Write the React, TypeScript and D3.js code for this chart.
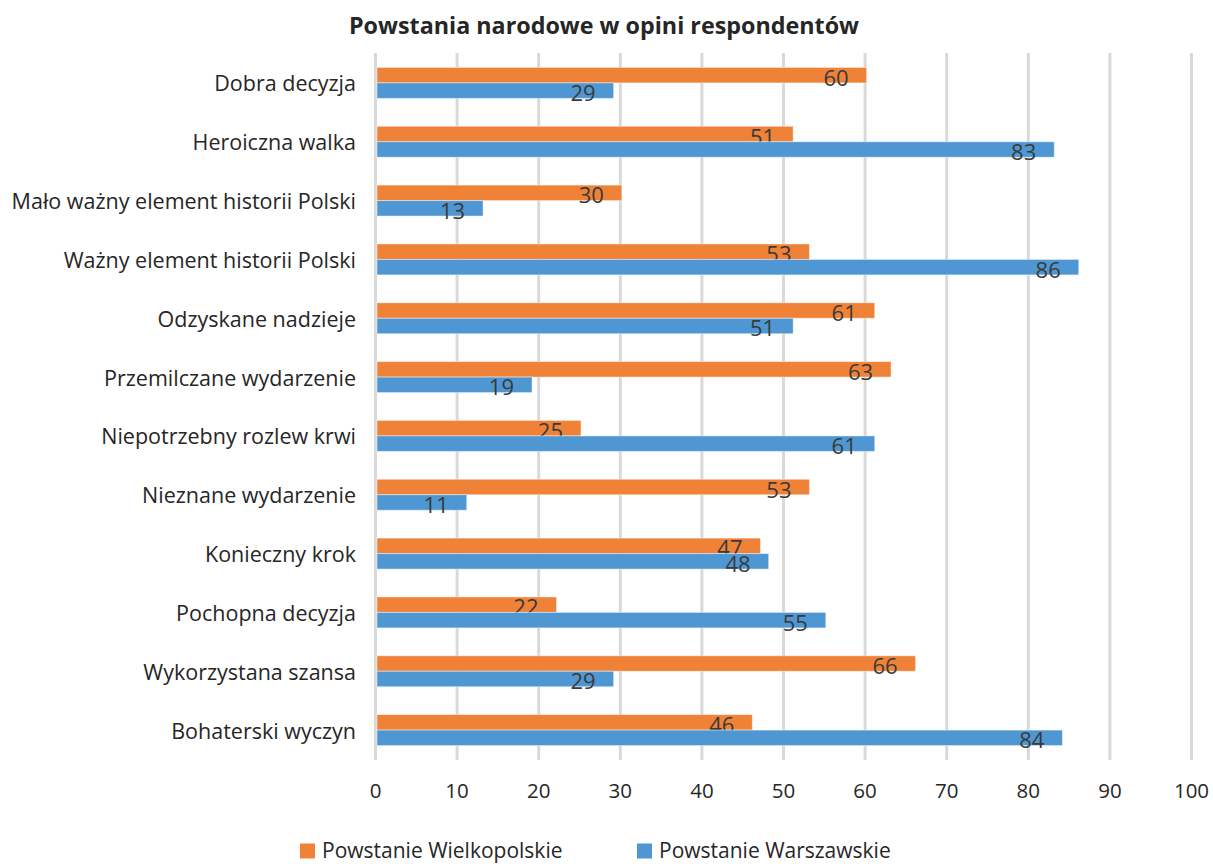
import * as d3 from "d3";
import React, { useEffect, useRef } from "react";

const categories = [
  "Dobra decyzja",
  "Heroiczna walka",
  "Mało ważny element historii Polski",
  "Ważny element historii Polski",
  "Odzyskane nadzieje",
  "Przemilczane wydarzenie",
  "Niepotrzebny rozlew krwi",
  "Nieznane wydarzenie",
  "Konieczny krok",
  "Pochopna decyzja",
  "Wykorzystana szansa",
  "Bohaterski wyczyn",
];
const wielkopolskie = [60, 51, 30, 53, 61, 63, 25, 53, 47, 22, 66, 46];
const warszawskie = [29, 83, 13, 86, 51, 19, 61, 11, 48, 55, 29, 84];
const seriesNames = ["Powstanie Wielkopolskie", "Powstanie Warszawskie"];
const xTicks = [0, 10, 20, 30, 40, 50, 60, 70, 80, 90, 100];

const colors = ["#f08238", "#4f97d2"];
const font = "'Open Sans', 'Noto Sans', sans-serif";
const textColor = "#262626";

export default function App() {
  const ref = useRef<SVGSVGElement>(null);

  useEffect(() => {
    const width = 1213;
    const height = 864;
    const svg = d3.select(ref.current).attr("width", width).attr("height", height);
    svg.selectAll("*").remove();

    const x = d3.scaleLinear().domain([0, 100]).range([377, 1193]);
    const y = d3.scaleBand().domain(categories).range([53.5, 759.5]);
    const sub = d3
      .scaleBand()
      .domain(seriesNames)
      .range([0, y.bandwidth()])
      .paddingOuter(0.9);

    // title
    svg
      .append("text")
      .text("Powstania narodowe w opini respondentów")
      .attr("x", 604)
      .attr("y", 25)
      .attr("dominant-baseline", "central")
      .attr("text-anchor", "middle")
      .attr("font-family", font)
      .attr("font-weight", 700)
      .attr("font-size", "23.3px")
      .attr("fill", textColor);

    // grid
    svg
      .append("g")
      .selectAll("line")
      .data(xTicks)
      .enter()
      .append("line")
      .attr("x1", (d) => x(d) - 1.5)
      .attr("x2", (d) => x(d) - 1.5)
      .attr("y1", 53)
      .attr("y2", 760)
      .attr("stroke", "#d9d9d9")
      .attr("stroke-width", 3);

    // x tick labels
    svg
      .append("g")
      .selectAll("text")
      .data(xTicks)
      .enter()
      .append("text")
      .text((d) => d)
      .attr("x", (d) => x(d) - 1.5)
      .attr("y", 790)
      .attr("dominant-baseline", "central")
      .attr("text-anchor", "middle")
      .attr("font-family", font)
      .attr("font-size", "20.5px")
      .attr("fill", textColor);

    // category labels
    svg
      .append("g")
      .selectAll("text")
      .data(categories)
      .enter()
      .append("text")
      .text((d) => d)
      .attr("x", 356)
      .attr("y", (d) => y(d)! + y.bandwidth() / 2)
      .attr("dominant-baseline", "central")
      .attr("text-anchor", "end")
      .attr("font-family", font)
      .attr("font-size", "21.5px")
      .attr("fill", textColor);

    const seriesData = [wielkopolskie, warszawskie];
    seriesData.forEach((values, si) => {
      const g = svg.append("g");
      const rows = values.map((v, i) => ({ cat: categories[i], v }));
      g.selectAll("rect")
        .data(rows)
        .enter()
        .append("rect")
        .attr("x", x(0))
        .attr("y", (d) => y(d.cat)! + sub(seriesNames[si])!)
        .attr("width", (d) => x(d.v) - x(0))
        .attr("height", sub.bandwidth())
        .attr("fill", colors[si])
        .attr("stroke", "rgba(255,255,255,0.45)")
        .attr("stroke-width", 1);
      g.selectAll("text")
        .data(rows)
        .enter()
        .append("text")
        .text((d) => d.v)
        .attr("x", (d) => x(d.v) - 18)
        .attr("y", (d) => y(d.cat)! + sub(seriesNames[si])! + sub.bandwidth() / 2 + 1.5)
        .attr("dominant-baseline", "central")
        .attr("text-anchor", "end")
        .attr("font-family", font)
        .attr("font-size", "22px")
        .attr("fill", "#3a3a3a");
    });

    // legend
    const legendX = [300, 637];
    const legend = svg
      .append("g")
      .selectAll("g")
      .data(seriesNames)
      .enter()
      .append("g")
      .attr("transform", (d, i) => `translate(${legendX[i]},850)`);
    legend
      .append("rect")
      .attr("x", 0)
      .attr("y", -6.5)
      .attr("width", 15)
      .attr("height", 15)
      .attr("fill", (d, i) => colors[i]);
    legend
      .append("text")
      .text((d) => d)
      .attr("x", 22)
      .attr("y", 0)
      .attr("dominant-baseline", "central")
      .attr("font-family", font)
      .attr("font-size", "21px")
      .attr("fill", textColor);
  }, []);

  return (
    <div style={{ position: "absolute", left: 0, top: 0 }}>
      <svg ref={ref} style={{ display: "block", background: "#fff" }}></svg>
    </div>
  );
}
